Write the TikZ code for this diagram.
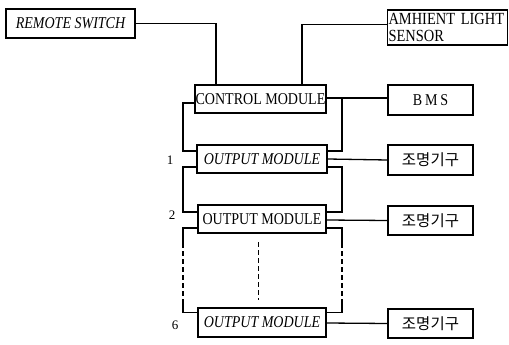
\documentclass[tikz,border=0pt]{standalone}
\usepackage{fontspec}
\setmainfont{Liberation Serif}
\newfontfamily\bfnt[FakeStretch=0.85]{Liberation Serif}
\newfontfamily\kor{Noto Sans CJK KR}
\begin{document}
\begin{tikzpicture}[x=1pt,y=-1pt,
  box/.style={draw,line width=1.3pt,inner sep=0pt,align=center,font=\bfnt\fontsize{16.5}{18}\selectfont},
  kbox/.style={box,font=\kor\fontsize{15.5}{17}\selectfont},
  wire/.style={line width=1.3pt},
  dwire/.style={line width=1.3pt,dash pattern=on 5pt off 3pt},
  lbl/.style={font=\fontsize{13}{14}\selectfont}]
\useasboundingbox (0,0) rectangle (509,345);
\node[box,minimum width=129pt,minimum height=29pt] (remote) at (70.5,23.5) {\itshape REMOTE SWITCH};
\node[box,minimum width=120pt,minimum height=35pt,align=left,text width=118pt,font=\bfnt\fontsize{17}{17}\selectfont] (sensor) at (447.5,27.5) {AMHIENT LIGHT\\SENSOR};
\node[box,minimum width=131pt,minimum height=28pt] (control) at (260.5,99) {CONTROL MODULE};
\node[box,minimum width=85pt,minimum height=30pt] (bms) at (430.5,100) {B\,M\,S};
\node[box,minimum width=130pt,minimum height=28pt] (out1) at (262,159) {\itshape OUTPUT MODULE};
\node[kbox,minimum width=85pt,minimum height=30pt] (l1) at (430.5,160) {조명기구};
\node[box,minimum width=128pt,minimum height=28pt] (out2) at (262,219) {OUTPUT MODULE};
\node[kbox,minimum width=85pt,minimum height=29pt] (l2) at (430.5,220.5) {조명기구};
\node[box,minimum width=128pt,minimum height=29pt] (out6) at (262,322.5) {\itshape OUTPUT MODULE};
\node[kbox,minimum width=85pt,minimum height=29pt] (l3) at (430.5,323.5) {조명기구};
\node[lbl] (n1) at (170,160) {1};
\node[lbl] (n2) at (172,215) {2};
\node[lbl] (n6) at (175,325) {6};
% remote and sensor
\draw[wire] (remote.east) -| ([xshift=-44.5pt]control.north);
\draw[wire] ([yshift=3pt]sensor.west) -| ([xshift=41.5pt]control.north);
% control to bms
\draw[wire] ([yshift=1pt]control.east) -- ([yshift=2pt]bms.west);
\coordinate (jc) at (342,98);
\draw[wire] (jc) |- ([yshift=8pt]out1.east);
\draw[wire] ([yshift=-4pt]control.west) -| (183,151) -- ([yshift=8pt]out1.west);
% out1
\draw[wire] (out1.east) -- (l1.west);
\draw[wire] ([yshift=-8pt]out1.west) -| (183,212) -- ([yshift=7pt]out2.west);
\draw[wire] ([yshift=-8pt]out1.east) -| (342,212) -- ([yshift=7pt]out2.east);
% out2
\draw[wire] ([yshift=-1pt]out2.east) -- (l2.west);
\coordinate (a1) at (183,243);
\coordinate (a2) at (183,300);
\coordinate (b1) at (342,243);
\coordinate (b2) at (342,300);
\draw[wire] ([yshift=-9pt]out2.west) -| (a1);
\draw[dwire] (a1) -- (a2);
\draw[wire] (a2) |- ([yshift=10pt]out6.west);
\draw[wire] ([yshift=-9pt]out2.east) -| (b1);
\draw[dwire] (b1) -- (b2);
\draw[wire] (b2) |- ([yshift=10pt]out6.east);
\coordinate (m1) at (258,242);
\coordinate (m2) at (258,300);
\draw[dwire,line width=1pt] (m1) -- (m2);
% out6
\draw[wire] ([yshift=-0.5pt]out6.east) -- (l3.west);
\end{tikzpicture}
\end{document}
